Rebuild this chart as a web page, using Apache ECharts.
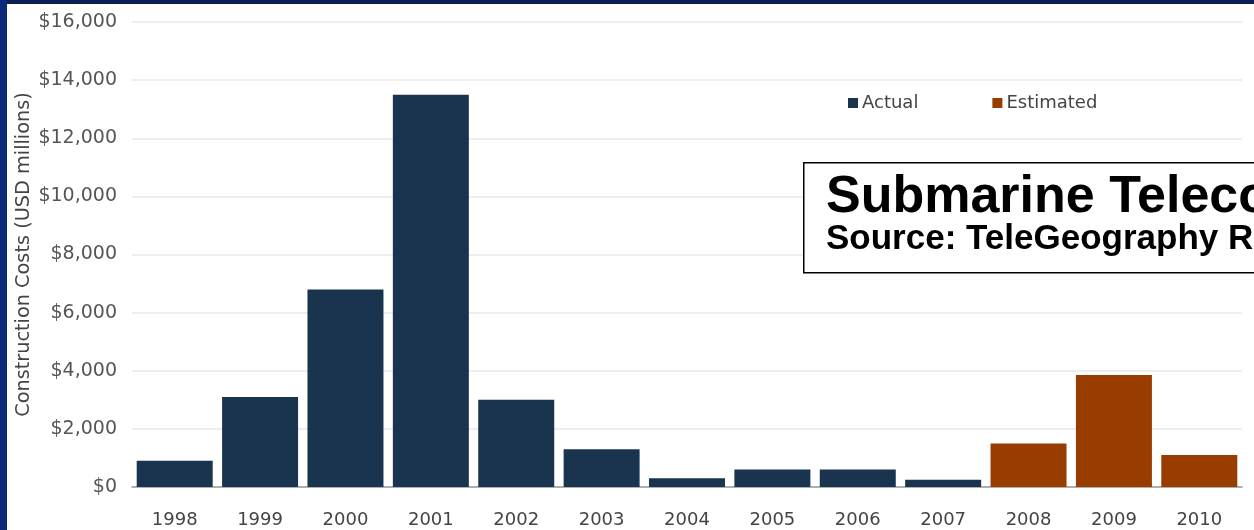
<!DOCTYPE html>
<html>
<head>
<meta charset="utf-8">
<script src="https://cdn.jsdelivr.net/npm/echarts@6/dist/echarts.min.js"></script>
<style>
  html, body { margin: 0; padding: 0; background: #fff; }
  #chart { width: 1254px; height: 530px; }
</style>
</head>
<body>
<div id="chart"></div>
<script>
// values (USD millions)
const years = ['1998', '1999', '2000', '2001', '2002', '2003', '2004', '2005', '2006', '2007', '2008', '2009', '2010']
const actual = [900, 3100, 6800, 13500, 3000, 1300, 300, 600, 600, 250, null, null, null]
const estimated = [null, null, null, null, null, null, null, null, null, null, 1500, 3850, 1100]
const yTicks = [0, 2000, 4000, 6000, 8000, 10000, 12000, 14000, 16000]

const chart = echarts.init(document.getElementById('chart'))

const axisFont = 'DejaVu Sans, sans-serif'
const titleFont = 'Liberation Sans, Arial, sans-serif'

const option = {
  animation: false,
  textStyle: { fontFamily: axisFont },
  grid: { left: 132, right: 12, top: 22, bottom: 43 },
  legend: {
    left: 843,
    top: 89,
    itemGap: 74,
    itemWidth: 10,
    itemHeight: 10,
    icon: 'rect',
    textStyle: { fontSize: 18, color: '#444', padding: [0, 0, 0, -1] },
    data: ['Actual', 'Estimated']
  },
  xAxis: {
    type: 'category',
    data: years,
    axisTick: { show: false },
    axisLine: { lineStyle: { color: '#9a9a9a', width: 1.5 } },
    axisLabel: { fontSize: 18, color: '#444', margin: 24 }
  },
  yAxis: {
    type: 'value',
    min: yTicks[0],
    max: yTicks[yTicks.length - 1],
    interval: 2000,
    name: 'Construction Costs (USD millions)',
    nameLocation: 'middle',
    nameGap: 99,
    nameMoveOverlap: false,
    nameTextStyle: { fontSize: 19.3, color: '#444' },
    axisLabel: {
      fontSize: 19,
      color: '#555',
      margin: 15,
      formatter: v => '$' + v.toLocaleString('en-US')
    },
    splitLine: { lineStyle: { color: '#e8e8e8', width: 1.5 } }
  },
  series: [
    {
      name: 'Actual',
      type: 'bar',
      stack: 'all',
      barCategoryGap: '11%',
      data: actual,
      itemStyle: { color: '#1a334e' }
    },
    {
      name: 'Estimated',
      type: 'bar',
      stack: 'all',
      barCategoryGap: '11%',
      data: estimated,
      itemStyle: { color: '#993c00' }
    }
  ],
  graphic: [
    { type: 'rect', left: 0, top: 0, z: 100, shape: { width: 1254, height: 4 }, style: { fill: '#0b1f52' } },
    { type: 'rect', left: 0, top: 0, z: 100, shape: { width: 7, height: 530 }, style: { fill: '#0b2a78' } },
    {
      type: 'rect', left: 803, top: 162, z: 100,
      shape: { width: 600, height: 110 },
      style: { fill: '#fff', stroke: '#000', lineWidth: 1.5 }
    },
    {
      type: 'text', left: 826, top: 172, z: 101,
      style: { text: 'Submarine Telecom Construction Costs', font: 'bold 52px ' + titleFont, fill: '#000' }
    },
    {
      type: 'text', left: 826, top: 222, z: 101,
      style: { text: 'Source: TeleGeography Research', font: 'bold 35px ' + titleFont, fill: '#000' }
    }
  ]
}

chart.setOption(option)
</script>
</body>
</html>
